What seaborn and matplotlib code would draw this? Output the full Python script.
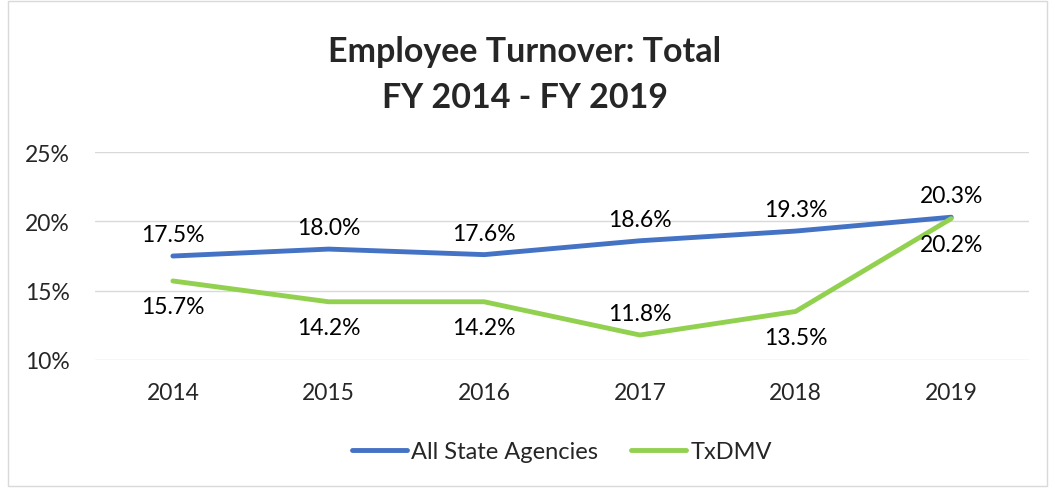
import numpy as np
import pandas as pd
import seaborn as sns
import matplotlib.pyplot as plt
from matplotlib.patches import Rectangle

years = [2014, 2015, 2016, 2017, 2018, 2019]
all_state = [17.5, 18.0, 17.6, 18.6, 19.3, 20.3]
txdmv = [15.7, 14.2, 14.2, 11.8, 13.5, 20.2]
series_names = ["All State Agencies", "TxDMV"]
yticks = [10, 15, 20, 25]

df = pd.concat((
    pd.DataFrame(dict(year=years, val=all_state, g=series_names[0])),
    pd.DataFrame(dict(year=years, val=txdmv, g=series_names[1])),
)).reset_index(drop=True)

sns.set_theme(style="white")
plt.rcParams['font.family'] = ['Lato', 'DejaVu Sans']
fs = 16.5

fig = plt.figure(figsize=(10.49, 4.89), dpi=100)
ax = fig.add_axes([0.0906, 0.2618, 0.8904, 0.4252])

pal = {series_names[0]: "#4472C4", series_names[1]: "#92D050"}
sns.lineplot(data=df, x="year", y="val", hue="g", palette=pal, lw=3.5,
             ax=ax, legend=True, solid_capstyle="round")

# data labels: blue above, green below (except the 2017 dip)
for x, y in zip(years, all_state):
    ax.annotate(f"{y:.1f}%", (x, y), xytext=(0, 8), textcoords="offset points",
                ha="center", va="bottom", fontsize=fs, color="black")
for x, y in zip(years, txdmv):
    if x == 2017:
        ax.annotate(f"{y:.1f}%", (x, y), xytext=(0, 8), textcoords="offset points",
                    ha="center", va="bottom", fontsize=fs, color="black")
    else:
        ax.annotate(f"{y:.1f}%", (x, y), xytext=(0, -11), textcoords="offset points",
                    ha="center", va="top", fontsize=fs, color="black")

ax.set_xlim(2013.5, 2019.5)
ax.set_ylim(10, 25)
ax.set_yticks(yticks)
ax.set_yticklabels([f"{t}%" for t in yticks], fontsize=fs)
ax.set_xticks(years)
ax.set_xticklabels([str(y) for y in years], fontsize=fs)
ax.tick_params(axis="y", length=0, pad=18)
ax.tick_params(axis="x", length=0, pad=16)
ax.grid(axis="y", color="#D9D9D9", lw=1)
ax.set_axisbelow(True)
ax.set_xlabel("")
ax.set_ylabel("")
sns.despine(ax=ax, left=True, bottom=True)

leg = ax.legend(loc="center", bbox_to_anchor=(0.5, -0.44), ncol=2,
                frameon=False, fontsize=17, handlelength=2.3,
                handletextpad=0.2, columnspacing=1.4)
for h in leg.get_lines():
    h.set_linewidth(3.5)
    h.set_solid_capstyle("round")

fig.text(0.5, 0.893, "Employee Turnover: Total", ha="center", va="center",
         fontsize=24.5, fontweight="bold")
fig.text(0.5, 0.80, "FY 2014 - FY 2019", ha="center", va="center",
         fontsize=24.5, fontweight="bold")

fig.patches.append(Rectangle((0.008, 0.005), 0.99, 0.99, transform=fig.transFigure,
                             fill=False, edgecolor="#D9D9D9", lw=1))

plt.savefig("out.png", dpi=100)
